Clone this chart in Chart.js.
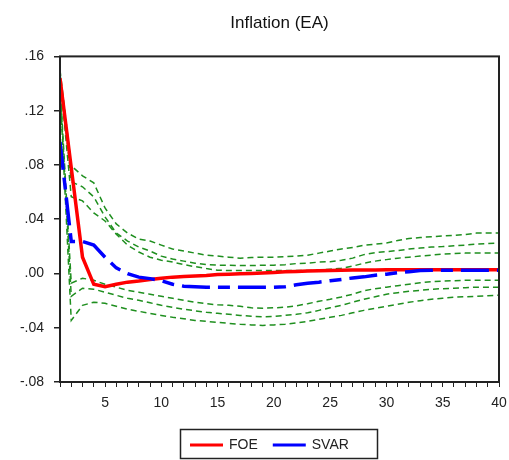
<!DOCTYPE html>
<html>
<head>
<meta charset="utf-8">
<script src="https://cdn.jsdelivr.net/npm/chart.js@4"></script>
<style>
  html, body { margin: 0; padding: 0; background: #fff; }
  #wrap { width: 509px; height: 460px; }
</style>
</head>
<body>
<div id="wrap"><canvas id="irfChart" width="509" height="460"></canvas></div>
<script>
// impulse responses of euro-area inflation, horizons 1..40
const periods = [1, 2, 3, 4, 5, 6, 7, 8, 9, 10, 11, 12, 13, 14, 15, 16, 17, 18, 19, 20,
  21, 22, 23, 24, 25, 26, 27, 28, 29, 30, 31, 32, 33, 34, 35, 36, 37, 38, 39, 40];

const foe = [0.144, 0.078, 0.012, -0.008, -0.0097, -0.008, -0.0064, -0.0056, -0.0045, -0.0035,
  -0.0027, -0.0022, -0.0019, -0.0015, -0.0008, -0.0005, -0.0003, 0.0000, 0.0004, 0.0008,
  0.0012, 0.0015, 0.0018, 0.0020, 0.0022, 0.0024, 0.0025, 0.0026, 0.0026, 0.0027,
  0.0027, 0.0027, 0.0027, 0.0027, 0.0027, 0.0027, 0.0027, 0.0027, 0.0027, 0.0027];

const svar = [0.097, 0.0236, 0.0236, 0.021, 0.012, 0.0041, -0.0001, -0.0027, -0.0038, -0.0053,
  -0.0079, -0.0094, -0.0098, -0.0101, -0.0101, -0.0101, -0.0101, -0.0101, -0.0101, -0.0101,
  -0.0098, -0.0083, -0.0072, -0.0064, -0.0053, -0.0044, -0.0033, -0.0025, -0.0013, -0.0005,
  0.0006, 0.0013, 0.0021, 0.0024, 0.0024, 0.0024, 0.0024, 0.0024, 0.0024, 0.0024];

// confidence bands, outermost first
const upper3 = [0.150, 0.0794, 0.072, 0.0668, 0.0483, 0.0365, 0.0298, 0.0254, 0.0239, 0.0209,
  0.018, 0.0165, 0.015, 0.0135, 0.0128, 0.012, 0.0113, 0.0117, 0.012, 0.012,
  0.0124, 0.0128, 0.0135, 0.015, 0.0165, 0.018, 0.0191, 0.0209, 0.0216, 0.0224,
  0.0243, 0.0258, 0.0265, 0.0271, 0.0276, 0.028, 0.0287, 0.0298, 0.0298, 0.0298];

const upper2 = [0.148, 0.0676, 0.0639, 0.0565, 0.0417, 0.0298, 0.0239, 0.0195, 0.0165, 0.0128,
  0.0106, 0.0091, 0.0076, 0.0065, 0.0061, 0.0061, 0.0058, 0.0058, 0.0061, 0.0061,
  0.0065, 0.0073, 0.0076, 0.0084, 0.0087, 0.0098, 0.0113, 0.0139, 0.0154, 0.0161,
  0.0169, 0.018, 0.0187, 0.0195, 0.0198, 0.0204, 0.0209, 0.0217, 0.022, 0.0224];

const upper1 = [0.146, 0.0565, 0.0535, 0.0446, 0.0387, 0.029, 0.0209, 0.0158, 0.012, 0.0098,
  0.0084, 0.0065, 0.005, 0.0036, 0.0024, 0.0021, 0.0021, 0.0021, 0.0021, 0.0021,
  0.0021, 0.0021, 0.0021, 0.0024, 0.0032, 0.0039, 0.0054, 0.0076, 0.0091, 0.0102,
  0.0113, 0.012, 0.0128, 0.0135, 0.0143, 0.0147, 0.015, 0.015, 0.015, 0.015];

const lower1 = [0.140, -0.0072, -0.0035, -0.005, -0.008, -0.0101, -0.0124, -0.0138, -0.0153, -0.0168,
  -0.0183, -0.0198, -0.0212, -0.0223, -0.0231, -0.0235, -0.0242, -0.0253, -0.0257, -0.0253,
  -0.0249, -0.0238, -0.0223, -0.0205, -0.019, -0.0173, -0.0153, -0.0127, -0.0112, -0.0101,
  -0.009, -0.0079, -0.0068, -0.0061, -0.0057, -0.0053, -0.005, -0.005, -0.005, -0.005];

const lower2 = [0.138, -0.0168, -0.0109, -0.0116, -0.0138, -0.0161, -0.0183, -0.0198, -0.0216, -0.0235,
  -0.0249, -0.0264, -0.0275, -0.0286, -0.0294, -0.0301, -0.0309, -0.0316, -0.032, -0.0316,
  -0.0309, -0.0301, -0.029, -0.0272, -0.0253, -0.0235, -0.0212, -0.019, -0.0172, -0.0153,
  -0.0142, -0.0131, -0.0124, -0.0116, -0.0112, -0.0109, -0.0105, -0.0101, -0.0101, -0.0101];

const lower3 = [0.136, -0.0346, -0.0235, -0.0212, -0.022, -0.0242, -0.0264, -0.0279, -0.0294, -0.0309,
  -0.0323, -0.0334, -0.0346, -0.0353, -0.036, -0.0368, -0.0375, -0.0379, -0.0383, -0.0379,
  -0.0375, -0.0364, -0.0353, -0.0338, -0.0323, -0.0309, -0.029, -0.0272, -0.0257, -0.0242,
  -0.0227, -0.0212, -0.0201, -0.019, -0.0183, -0.0175, -0.0172, -0.0168, -0.0164, -0.0161];

const yTicks = [-0.08, -0.04, 0, 0.04, 0.08, 0.12, 0.16];

const GREEN = "#1f8f1f";

function pts(values) {
  return values.map((v, i) => ({ x: periods[i], y: v }));
}

function band(values) {
  return {
    label: "",
    data: pts(values),
    borderColor: GREEN,
    borderWidth: 1.5,
    borderDash: [6, 4],
    pointRadius: 0,
    tension: 0,
    order: 3
  };
}

// box around the plot area
const frame = {
  id: "frame",
  afterDatasetsDraw(chart) {
    const a = chart.chartArea;
    const ctx = chart.ctx;
    ctx.save();
    ctx.strokeStyle = "#222";
    ctx.lineWidth = 2;
    ctx.strokeRect(a.left, a.top, a.right - a.left, a.bottom - a.top);
    ctx.restore();
  }
};

// boxed legend under the plot, only for the two named lines
const legendBox = {
  id: "legendBox",
  afterDraw(chart) {
    const ctx = chart.ctx;
    const items = chart.data.datasets.filter(d => d.label);
    ctx.save();
    ctx.strokeStyle = "#222";
    ctx.lineWidth = 1.5;
    ctx.strokeRect(180.5, 429.5, 197, 29);
    ctx.font = "14px 'Liberation Sans', Arial, sans-serif";
    ctx.textBaseline = "middle";
    ctx.fillStyle = "#222";
    let x = 190;
    const y = 445;
    items.forEach(d => {
      ctx.strokeStyle = d.borderColor;
      ctx.lineWidth = 3;
      ctx.beginPath();
      ctx.moveTo(x, y);
      ctx.lineTo(x + 33, y);
      ctx.stroke();
      ctx.fillText(d.label, x + 39, y);
      x += 39 + ctx.measureText(d.label).width + 15;
    });
    ctx.restore();
  }
};

const ctx = document.getElementById("irfChart").getContext("2d");
const irfChart = new Chart(ctx, {
  type: "line",
  data: {
    datasets: [
      {
        label: "FOE",
        data: pts(foe),
        borderColor: "#ff0000",
        borderWidth: 3.5,
        pointRadius: 0,
        tension: 0,
        order: 2
      },
      {
        label: "SVAR",
        data: pts(svar),
        borderColor: "#0000ff",
        borderWidth: 3.5,
        borderDash: [28, 8, 12, 8],
        pointRadius: 0,
        tension: 0,
        order: 1
      },
      band(upper3), band(upper2), band(upper1),
      band(lower1), band(lower2), band(lower3)
    ]
  },
  options: {
    responsive: false,
    animation: false,
    layout: { padding: { left: 0, right: 10, top: 0, bottom: 48 } },
    plugins: {
      legend: { display: false },
      tooltip: { enabled: false },
      title: {
        display: true,
        text: "Inflation (EA)",
        fullSize: false,
        color: "#111",
        font: { family: "'Liberation Sans', Arial, sans-serif", size: 17, weight: "normal" },
        padding: { top: 13, bottom: 23 }
      }
    },
    scales: {
      x: {
        type: "linear",
        min: 1,
        max: 40,
        afterFit: s => { s.height = 30; s.paddingLeft = 0; s.paddingRight = 0; },
        border: { display: false },
        grid: { drawOnChartArea: false, tickLength: 5, color: "#222", lineWidth: 1 },
        ticks: {
          stepSize: 1,
          autoSkip: false,
          maxRotation: 0,
          padding: 8,
          color: "#222",
          font: { family: "'Liberation Sans', Arial, sans-serif", size: 14 },
          callback: v => (v % 5 === 0 ? String(v) : "")
        }
      },
      y: {
        min: yTicks[0],
        max: yTicks[yTicks.length - 1],
        afterFit: s => { s.width = 60; },
        afterBuildTicks: s => { s.ticks = yTicks.map(v => ({ value: v })); },
        border: { display: false },
        grid: { drawOnChartArea: false, tickLength: 6, color: "#222", lineWidth: 1.5 },
        ticks: {
          padding: 10,
          color: "#222",
          font: { family: "'Liberation Sans', Arial, sans-serif", size: 14 },
          callback: v => v.toFixed(2).replace("0.", ".")
        }
      }
    }
  },
  plugins: [frame, legendBox]
});
</script>
</body>
</html>
